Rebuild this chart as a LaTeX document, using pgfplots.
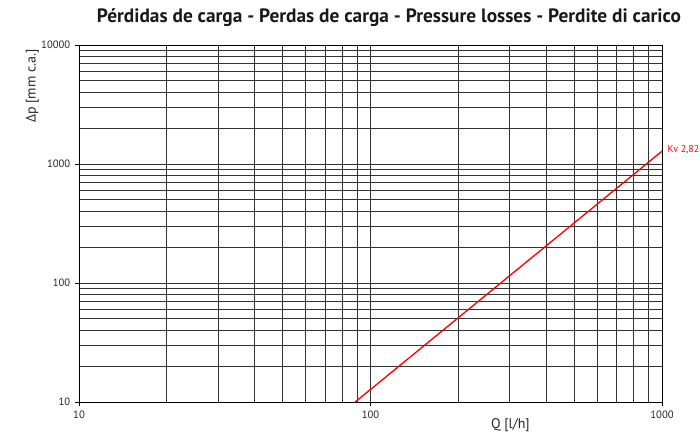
\documentclass[border=0pt]{standalone}
\usepackage{pgfplots}
\pgfplotsset{compat=1.18}
\usepackage{fontspec}
\setmainfont{PT Sans}
\begin{document}
\begin{tikzpicture}
\begin{axis}[
  at={(59.25pt,28.5pt)}, anchor=south west,
  scale only axis, width=437.25pt, height=267.75pt,
  xmode=log, ymode=log,
  xmin=10, xmax=1000, ymin=10, ymax=10000,
  xtick={10,100,1000}, xticklabels={10,100,1000},
  ytick={10,100,1000,10000}, yticklabels={10,100,1000,10000},
  minor xtick={20,30,40,50,60,70,80,90,200,300,400,500,600,700,800,900},
  minor ytick={20,30,40,50,60,70,80,90,200,300,400,500,600,700,800,900,2000,3000,4000,5000,6000,7000,8000,9000},
  grid=both,
  major grid style={black!80, line width=0.6pt},
  minor grid style={black!80, line width=0.6pt},
  axis line style={black, line width=0.7pt},
  tick style={black, line width=0.5pt},
  major tick length=3pt, minor tick length=0pt,
  tick align=outside,
  xtick pos=bottom, ytick pos=left,
  tick label style={font=\fontsize{8}{9}\selectfont, text=black!85},
  xlabel={Q [l/h]},
  ylabel={Δp [mm c.a.]},
  label style={font=\fontsize{10.5}{12}\selectfont, text=black!85},
  xlabel style={at={(rel axis cs:0.74,0)}, anchor=north, yshift=-9pt},
  ylabel style={at={(rel axis cs:0,0.885)}, anchor=center, yshift=35pt},
  clip=true,
]
\addplot[red, line width=1pt, no marks] coordinates {(88.6,10) (1000,1282)};
\end{axis}
\node[anchor=west, text=red, font=\fontsize{7.5}{9}\selectfont] at (497.25pt,217.5pt) {Kv 2,82};
\node[font=\bfseries\fontsize{14.5}{16}\selectfont, text=black!90] at (291.75pt,316.5pt) {Pérdidas de carga - Perdas de carga - Pressure losses - Perdite di carico};
\pgfresetboundingbox
\path[use as bounding box] (0pt,0pt) rectangle (525pt,330pt);
\end{tikzpicture}
\end{document}
